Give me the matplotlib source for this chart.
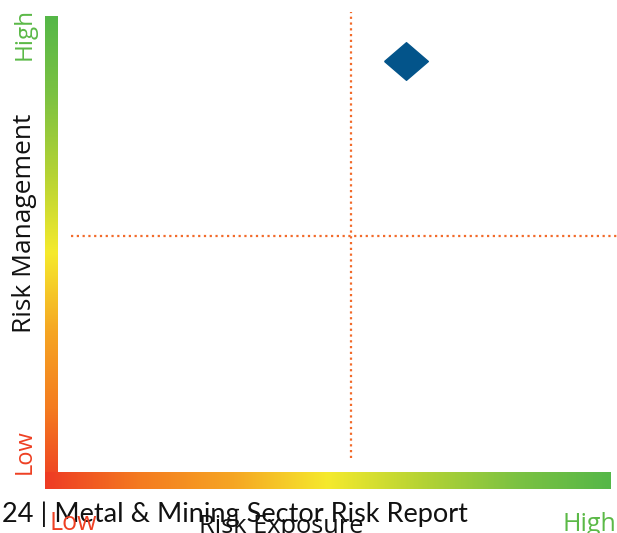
import matplotlib
matplotlib.use("Agg")
import matplotlib.pyplot as plt
import numpy as np
from matplotlib.colors import LinearSegmentedColormap

W, H = 617, 533

# quadrant thresholds and the plotted company (0-10 scale)
x_threshold = 5.24
y_threshold = 5.18
exposure = [6.23]
management = [9.01]

x_label = "Risk Exposure"
y_label = "Risk Management"
low_text = "Low"
high_text = "High"
footer = "24 | Metal & Mining Sector Risk Report"

RED, GREEN, BLACK = "#EE4023", "#5BB947", "#111111"
ORANGE_DOT = "#F26B2B"
NAVY = "#03548A"

grad = LinearSegmentedColormap.from_list(
    "risk", ["#EE3B24", "#F47B20", "#F6A623", "#F5EA2D", "#B5D334", "#7CC242", "#55B748"]
)


def px_axes(fig, x0, y0, x1, y1):
    """axes from pixel box (top-left origin)"""
    return fig.add_axes([x0 / W, 1 - y1 / H, (x1 - x0) / W, (y1 - y0) / H])


def main():
    plt.rcParams["font.family"] = ["Open Sans", "DejaVu Sans"]
    fig = plt.figure(figsize=(W / 100, H / 100), dpi=100)
    fig.patch.set_facecolor("white")

    # gradient bars
    g = np.linspace(0, 1, 256)
    vax = px_axes(fig, 45, 16, 58, 489)
    vax.imshow(g[::-1].reshape(-1, 1), aspect="auto", cmap=grad)
    vax.axis("off")
    hax = px_axes(fig, 45, 472, 611, 489)
    hax.imshow(g.reshape(1, -1), aspect="auto", cmap=grad)
    hax.axis("off")

    ax = px_axes(fig, 58, 16, 617, 472)
    ax.set_xlim(0, 10)
    ax.set_ylim(0, 10)
    ax.axis("off")

    ax.plot([x_threshold, x_threshold], [0.31, 10.09], linestyle=(0, (1, 1.6)),
            color=ORANGE_DOT, linewidth=1.6, clip_on=False)
    ax.plot([0.23, 10], [y_threshold, y_threshold], linestyle=(0, (1, 1.6)),
            color=ORANGE_DOT, linewidth=1.6, clip_on=False)

    diamond = [(-1, 0), (0, 0.86), (1, 0), (0, -0.86), (-1, 0)]
    ax.plot(exposure, management, marker=diamond, markersize=31.5,
            color=NAVY, linestyle="none", clip_on=False)

    # axis texts
    fig.text(25 / W, 1 - 34 / H, high_text, rotation=90, color=GREEN, fontsize=17.5,
             ha="center", va="center")
    fig.text(25 / W, 1 - 223 / H, y_label, rotation=90, color=BLACK, fontsize=19,
             ha="center", va="center")
    fig.text(25 / W, 1 - 452 / H, low_text, rotation=90, color=RED, fontsize=17,
             ha="center", va="center")

    fig.text(2 / W, 1 - 522 / H, footer, color=BLACK, fontsize=19.5,
             family=["Lato", "DejaVu Sans"], ha="left", va="baseline")
    fig.text(50 / W, 1 - 530 / H, low_text, color=RED, fontsize=18, ha="left", va="baseline")
    fig.text(281 / W, 1 - 533 / H, x_label, color=BLACK, fontsize=18.3, ha="center",
             va="baseline")
    fig.text(589 / W, 1 - 531 / H, high_text, color=GREEN, fontsize=18, ha="center",
             va="baseline")

    fig.savefig("out.png", dpi=100)
    plt.close(fig)


if __name__ == "__main__":
    main()
